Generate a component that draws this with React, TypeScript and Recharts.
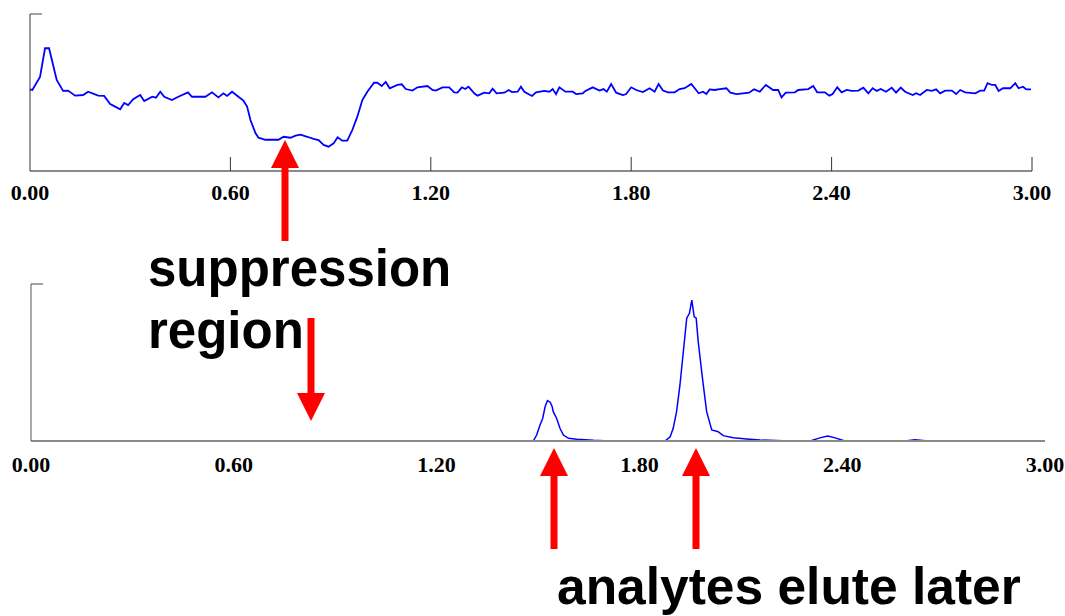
import { Line, LineChart, XAxis, YAxis } from "recharts";

// retention time axis (min)
const timeTicks = [0, 0.6, 1.2, 1.8, 2.4, 3.0];

// top trace: infusion baseline with suppression dip
const topTime = [
  0, 0.007, 0.03, 0.045, 0.057, 0.08, 0.099, 0.114, 0.135, 0.159,
  0.174, 0.204, 0.222, 0.24, 0.255, 0.27, 0.282, 0.294, 0.309, 0.33,
  0.342, 0.366, 0.377, 0.39, 0.402, 0.425, 0.444, 0.473, 0.485, 0.525,
  0.545, 0.564, 0.579, 0.59, 0.605, 0.624, 0.639, 0.65, 0.66, 0.675,
  0.684, 0.705, 0.744, 0.759, 0.78, 0.795, 0.81, 0.83, 0.849, 0.864,
  0.879, 0.894, 0.909, 0.921, 0.935, 0.95, 0.965, 0.98, 0.995, 1.01,
  1.03, 1.04, 1.053, 1.065, 1.077, 1.1, 1.113, 1.125, 1.145, 1.16,
  1.19, 1.205, 1.215, 1.235, 1.255, 1.27, 1.28, 1.293, 1.303, 1.313,
  1.33, 1.34, 1.36, 1.375, 1.385, 1.397, 1.42, 1.433, 1.443, 1.46,
  1.47, 1.48, 1.503, 1.515, 1.54, 1.555, 1.565, 1.575, 1.585, 1.603,
  1.625, 1.635, 1.655, 1.663, 1.685, 1.705, 1.717, 1.727, 1.74, 1.755,
  1.775, 1.785, 1.8, 1.815, 1.835, 1.855, 1.87, 1.882, 1.895, 1.91,
  1.93, 1.945, 1.96, 1.98, 2.002, 2.015, 2.025, 2.035, 2.05, 2.065,
  2.085, 2.097, 2.115, 2.135, 2.153, 2.168, 2.185, 2.203, 2.225, 2.24,
  2.25, 2.263, 2.29, 2.3, 2.33, 2.345, 2.357, 2.38, 2.393, 2.403,
  2.417, 2.43, 2.445, 2.46, 2.48, 2.495, 2.51, 2.523, 2.535, 2.547,
  2.563, 2.58, 2.593, 2.607, 2.62, 2.643, 2.653, 2.665, 2.685, 2.7,
  2.713, 2.725, 2.74, 2.76, 2.773, 2.785, 2.8, 2.83, 2.845, 2.857,
  2.867, 2.88, 2.89, 2.9, 2.913, 2.935, 2.95, 2.96, 2.973, 2.983,
  2.997,
];
const topSignal = [
  52.0, 51.6, 59.9, 78.2, 78.2, 58.0, 51.0, 51.2, 48.0, 48.4,
  50.5, 48.0, 47.8, 42.7, 41.0, 39.3, 43.3, 42.0, 45.7, 48.4,
  44.6, 47.3, 46.7, 50.5, 47.3, 45.2, 47.3, 50.1, 47.3, 47.3,
  50.1, 46.9, 49.5, 47.8, 50.5, 47.3, 44.8, 41.0, 32.5, 24.2,
  21.2, 19.9, 19.9, 21.8, 21.2, 22.5, 23.1, 21.8, 20.4, 19.7,
  16.6, 15.5, 17.6, 21.5, 19.3, 19.3, 26.1, 34.6, 45.2, 50.5,
  56.2, 56.2, 54.1, 56.7, 52.7, 54.8, 55.2, 52.2, 51.2, 53.3,
  54.1, 51.6, 51.2, 53.3, 53.3, 50.1, 49.9, 53.3, 52.2, 53.7,
  49.5, 48.0, 49.9, 49.5, 52.4, 49.5, 49.9, 51.6, 50.3, 50.5,
  53.7, 50.5, 47.8, 50.1, 51.0, 50.5, 52.2, 48.9, 53.3, 50.5,
  50.5, 49.0, 49.5, 51.0, 53.3, 51.2, 52.2, 50.5, 55.4, 49.9,
  48.4, 49.0, 53.3, 51.6, 50.3, 52.7, 50.5, 55.4, 51.2, 50.1,
  50.1, 52.2, 52.7, 55.4, 49.5, 50.5, 49.0, 52.0, 51.6, 52.2,
  52.7, 49.9, 49.0, 49.5, 49.9, 52.0, 50.5, 54.8, 51.6, 51.6,
  46.9, 49.9, 50.1, 51.6, 52.2, 54.1, 50.1, 50.1, 48.0, 49.0,
  53.3, 50.1, 51.6, 51.0, 51.2, 53.1, 49.5, 52.7, 51.0, 52.2,
  50.5, 53.1, 49.9, 53.1, 50.5, 48.4, 49.5, 48.4, 51.6, 51.0,
  52.0, 49.5, 51.2, 51.2, 49.0, 51.6, 50.1, 49.5, 51.2, 51.2,
  55.9, 54.8, 54.8, 51.0, 52.7, 52.7, 55.9, 52.7, 53.7, 52.0,
  52.0,
];

// bottom trace: analyte peaks
const bottomTime = [
  0, 1.486, 1.496, 1.506, 1.514, 1.521, 1.528, 1.536, 1.542, 1.545,
  1.555, 1.565, 1.575, 1.59, 1.615, 1.664, 1.713, 1.876, 1.891, 1.9,
  1.91, 1.92, 1.928, 1.935, 1.94, 1.948, 1.955, 1.962, 1.968, 1.974,
  1.982, 1.989, 1.999, 2.014, 2.033, 2.048, 2.078, 2.117, 2.157, 2.246,
  2.305, 2.334, 2.357, 2.379, 2.408, 2.586, 2.615, 2.654, 3.0,
];
const bottomSignal = [
  0, 0, 3.8, 10.2, 14.5, 21.8, 25.7, 24.7, 21.8, 18.7,
  14.5, 8.1, 3.8, 1.7, 1.1, 0.4, 0, 0, 2.7, 8.1,
  18.7, 35.7, 52.7, 67.5, 78.2, 81.3, 89.8, 79.2, 78.2, 63.3,
  48.4, 35.7, 18.7, 7.0, 5.9, 3.4, 2.1, 1.3, 0.6, 0,
  0, 2.0, 3.2, 2.0, 0, 0, 0.8, 0, 0,
];

const suppressionNote = ["suppression", "region"];
const analyteNote = "analytes elute later";

const topData = topTime.map((t, i) => ({ t, v: topSignal[i] }));
const bottomData = bottomTime.map((t, i) => ({ t, v: bottomSignal[i] }));

const SERIF = '"Times New Roman", "Liberation Serif", serif';
const SANS = 'Arial, "Liberation Sans", Helvetica, sans-serif';
const RED = "#ff0000";

function TimeTick(props: any) {
  const { x, y, payload, inward, gap } = props;
  return (
    <g>
      {inward && payload.value > 0 && (
        <line x1={x} y1={y} x2={x} y2={y - 14} stroke="#333" strokeWidth={1} />
      )}
      <text
        x={x}
        y={y + gap}
        textAnchor="middle"
        fontFamily={SERIF}
        fontWeight="bold"
        fontSize={22}
        fill="#000"
      >
        {Number(payload.value).toFixed(2)}
      </text>
    </g>
  );
}

function TopTick(props: any) {
  const { x, y } = props;
  return <line x1={x} y1={y} x2={x + 12} y2={y} stroke="#444" strokeWidth={1} />;
}

function arrow(cx: number, tip: number, head: number, tail: number) {
  const pts = [
    [cx, tip],
    [cx + 14, head],
    [cx + 3.5, head],
    [cx + 3.5, tail],
    [cx - 3.5, tail],
    [cx - 3.5, head],
    [cx - 14, head],
  ];
  return pts.map((p) => p.join(",")).join(" ");
}

export default function App() {
  return (
    <div
      style={{
        position: "absolute",
        left: 0,
        top: 0,
        width: 1065,
        height: 616,
        background: "#fff",
        overflow: "hidden",
      }}
    >
      <div style={{ position: "absolute", left: 0, top: 0 }}>
        <LineChart width={1065} height={215} data={topData} margin={{ top: 14, right: 33, left: 0, bottom: 0 }}>
          <XAxis
            dataKey="t"
            type="number"
            domain={[0, 3]}
            ticks={timeTicks}
            height={44}
            tickSize={0}
            tickMargin={0}
            tickLine={false}
            axisLine={{ stroke: "#8a8a8a", strokeWidth: 2 }}
            tick={<TimeTick inward gap={29} />}
            interval={0}
          />
          <YAxis
            width={30}
            domain={[0, 100]}
            ticks={[100]}
            tickSize={0}
            tickMargin={0}
            tickLine={false}
            axisLine={{ stroke: "#333" }}
            tick={<TopTick />}
          />
          <Line
            type="linear"
            dataKey="v"
            stroke="#0000ff"
            strokeWidth={1.8}
            dot={false}
            isAnimationActive={false}
          />
        </LineChart>
      </div>
      <div style={{ position: "absolute", left: 0, top: 270 }}>
        <LineChart width={1065} height={215} data={bottomData} margin={{ top: 14, right: 20, left: 0, bottom: 0 }}>
          <XAxis
            dataKey="t"
            type="number"
            domain={[0, 3]}
            ticks={timeTicks}
            height={44}
            tickSize={0}
            tickMargin={0}
            tickLine={false}
            axisLine={{ stroke: "#8a8a8a", strokeWidth: 2 }}
            tick={<TimeTick gap={31} />}
            interval={0}
          />
          <YAxis
            width={31}
            domain={[0, 100]}
            ticks={[100]}
            tickSize={0}
            tickMargin={0}
            tickLine={false}
            axisLine={{ stroke: "#555" }}
            tick={<TopTick />}
          />
          <Line
            type="linear"
            dataKey="v"
            stroke="#0000ff"
            strokeWidth={1.5}
            dot={false}
            isAnimationActive={false}
          />
        </LineChart>
      </div>
      <svg
        width={1065}
        height={616}
        style={{ position: "absolute", left: 0, top: 0, pointerEvents: "none" }}
      >
        <polygon points={arrow(285, 140, 168, 241)} fill={RED} />
        <polygon points={arrow(311, 421, 393, 318)} fill={RED} />
        <polygon points={arrow(554, 448, 476, 549)} fill={RED} />
        <polygon points={arrow(696, 448, 476, 549)} fill={RED} />
        <text x={148} y={286} fontFamily={SANS} fontWeight="bold" fontSize={51} fill="#000">
          {suppressionNote[0]}
        </text>
        <text x={148} y={348} fontFamily={SANS} fontWeight="bold" fontSize={51} fill="#000">
          {suppressionNote[1]}
        </text>
        <text x={557} y={604} fontFamily={SANS} fontWeight="bold" fontSize={51.5} fill="#000">
          {analyteNote}
        </text>
      </svg>
    </div>
  );
}
